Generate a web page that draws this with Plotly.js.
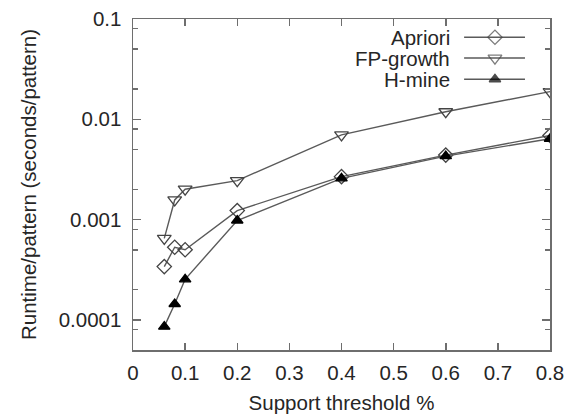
<!DOCTYPE html>
<html>
<head>
<meta charset="utf-8">
<script src="https://cdn.plot.ly/plotly-3.0.1.min.js"></script>
<style>
  html, body { margin: 0; padding: 0; background: #fff; }
  #chart { width: 573px; height: 414px; }
</style>
</head>
<body>
<div id="chart"></div>
<script>
// Support thresholds (%) at which each miner was run
const supportThreshold = [0.06, 0.08, 0.1, 0.2, 0.4, 0.6, 0.8];

// Runtime per pattern (seconds/pattern)
const apriori   = [0.00034, 0.00053, 0.00050, 0.00123, 0.00268, 0.00440, 0.0069];
const fpGrowth  = [0.00065, 0.00157, 0.00201, 0.00245, 0.00700, 0.01190, 0.0189];
const hMine     = [0.0000857, 0.000144, 0.000254, 0.00098, 0.00258, 0.00430, 0.0064];

const seriesNames = ['Apriori', 'FP-growth', 'H-mine'];

// Y axis labels (log scale)
const yTickVals = [0.0001, 0.001, 0.01, 0.1];
const yTickText = ['0.0001', '0.001', '0.01', '0.1'];
const yMinorVals = [0.00008, 0.0002, 0.0005, 0.0008, 0.002, 0.005, 0.008, 0.02, 0.05, 0.08];

const lineColor = '#5a5a5a';
const axisColor = '#6e6e6e';
const textColor = '#262626';
const fontFamily = 'Liberation Sans, Arial, Helvetica, sans-serif';
const fontSize = 20.5;

const styles = [
  { symbol: 'diamond-open',       size: 11, color: '#444' },
  { symbol: 'triangle-down-open', size: 12, color: '#444' },
  { symbol: 'triangle-up',        size: 10, color: '#000' }
];
const values = [apriori, fpGrowth, hMine];

const traces = values.map((v, i) => ({
  x: supportThreshold,
  y: v,
  type: 'scatter',
  mode: 'lines+markers',
  name: seriesNames[i],
  showlegend: false,
  line: { color: lineColor, width: 1.4 },
  marker: { symbol: styles[i].symbol, size: styles[i].size, color: styles[i].color,
            line: { color: styles[i].color, width: 1.3 } }
}));

// Key: a short line with the series marker in its middle, drawn on a hidden overlay axis
const keyRows = [0.945, 0.882, 0.818];
seriesNames.forEach((name, i) => {
  traces.push({
    x: [0.794, 0.868, 0.94],
    y: [keyRows[i], keyRows[i], keyRows[i]],
    xaxis: 'x2', yaxis: 'y2',
    type: 'scatter',
    mode: 'lines+markers',
    showlegend: false,
    hoverinfo: 'skip',
    line: { color: lineColor, width: 1.4 },
    marker: { symbol: styles[i].symbol, size: [0, styles[i].size, 0], color: styles[i].color,
              line: { color: styles[i].color, width: 1.3 } }
  });
});

const annotations = seriesNames.map((name, i) => ({
  xref: 'paper', yref: 'paper',
  x: 0.765, y: keyRows[i],
  xanchor: 'right', yanchor: 'middle',
  text: name, showarrow: false,
  font: { family: fontFamily, size: fontSize, color: textColor }
}));

const layout = {
  width: 573, height: 414,
  margin: { l: 133, r: 23, t: 19, b: 64 },
  paper_bgcolor: '#fff', plot_bgcolor: '#fff',
  font: { family: fontFamily, size: fontSize, color: textColor },
  showlegend: false,
  xaxis: {
    range: [0, 0.8], dtick: 0.1, tick0: 0,
    showgrid: false, zeroline: false,
    showline: true, linecolor: axisColor, linewidth: 1.5, mirror: 'ticks',
    ticks: 'inside', ticklen: 7, tickwidth: 1.5, tickcolor: axisColor,
    ticklabelstandoff: 4,
    tickfont: { family: fontFamily, size: fontSize, color: textColor },
    title: { text: 'Support threshold %', standoff: 12,
             font: { family: fontFamily, size: fontSize, color: textColor } }
  },
  yaxis: {
    type: 'log', range: [-4.3, -1],
    tickmode: 'array', tickvals: yTickVals, ticktext: yTickText,
    showgrid: false, zeroline: false,
    showline: true, linecolor: axisColor, linewidth: 1.5, mirror: 'ticks',
    ticks: 'inside', ticklen: 8, tickwidth: 1.5, tickcolor: axisColor,
    ticklabelstandoff: 6,
    minor: { tickmode: 'array', tickvals: yMinorVals, ticks: 'inside', ticklen: 5,
             tickwidth: 1.5, tickcolor: axisColor, showgrid: false },
    tickfont: { family: fontFamily, size: fontSize, color: textColor },
    title: { text: 'Runtime/pattern (seconds/pattern)', standoff: 16,
             font: { family: fontFamily, size: fontSize, color: textColor } }
  },
  xaxis2: { overlaying: 'x', range: [0, 1], visible: false, fixedrange: true },
  yaxis2: { overlaying: 'y', range: [0, 1], visible: false, fixedrange: true },
  annotations: annotations
};

Plotly.newPlot('chart', traces, layout, { displayModeBar: false, staticPlot: true });
</script>
</body>
</html>
